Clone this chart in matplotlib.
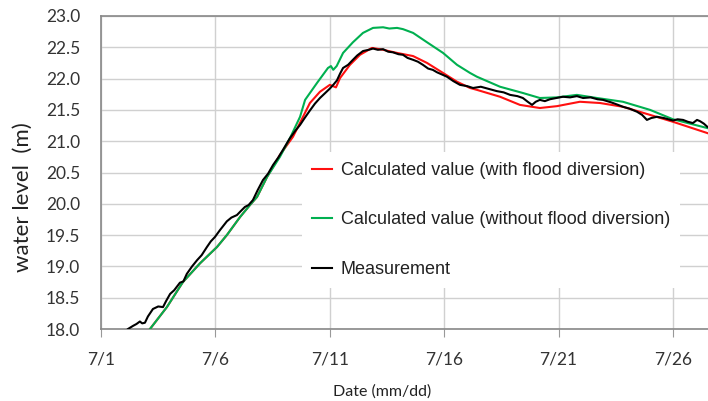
import matplotlib
matplotlib.use("Agg")
import matplotlib.pyplot as plt

# day of July (7/1 = 1)
meas_day = [2.18, 2.4, 2.55, 2.7, 2.8, 2.92, 3.05, 3.27, 3.5, 3.71, 3.85, 4.02, 4.2, 4.45,
            4.6, 4.75, 4.98, 5.2, 5.4, 5.63, 5.8, 5.98, 6.2, 6.5, 6.7, 6.94, 7.1, 7.29,
            7.45, 7.64, 7.85, 8.08, 8.3, 8.52, 8.75, 8.95, 9.26, 9.5, 9.7, 9.9, 10.13,
            10.35, 10.57, 10.8, 11.0, 11.15, 11.31, 11.45, 11.58, 11.8, 12.01, 12.2,
            12.45, 12.7, 12.89, 13.1, 13.33, 13.55, 13.76, 14.0, 14.2, 14.4, 14.64,
            14.85, 15.07, 15.3, 15.5, 15.69, 16.0, 16.12, 16.4, 16.69, 17.0, 17.26,
            17.6, 18.0, 18.3, 18.6, 18.88, 19.2, 19.44, 19.65, 19.84, 20.0, 20.18, 20.4,
            20.62, 20.9, 21.19, 21.5, 21.8, 22.07, 22.4, 22.7, 22.94, 23.3, 23.6, 23.81,
            24.1, 24.43, 24.65, 24.86, 25.05, 25.3, 25.6, 26.0, 26.2, 26.44, 26.65,
            26.87, 27.05, 27.18, 27.35, 27.5]
meas_level = [18.00, 18.05, 18.08, 18.12, 18.09, 18.10, 18.20, 18.32, 18.36, 18.35, 18.45,
              18.56, 18.62, 18.74, 18.76, 18.88, 19.00, 19.10, 19.18, 19.31, 19.40, 19.47,
              19.58, 19.72, 19.78, 19.82, 19.88, 19.95, 19.98, 20.06, 20.22, 20.38, 20.48,
              20.62, 20.74, 20.86, 21.05, 21.17, 21.26, 21.37, 21.49, 21.60, 21.69, 21.77,
              21.84, 21.90, 21.97, 22.08, 22.17, 22.22, 22.30, 22.37, 22.44, 22.46, 22.48,
              22.46, 22.47, 22.43, 22.42, 22.39, 22.38, 22.33, 22.30, 22.27, 22.22, 22.16,
              22.14, 22.10, 22.05, 22.03, 21.96, 21.90, 21.88, 21.85, 21.87, 21.83, 21.80,
              21.78, 21.74, 21.72, 21.69, 21.63, 21.58, 21.63, 21.66, 21.64, 21.67, 21.69,
              21.71, 21.70, 21.72, 21.69, 21.70, 21.67, 21.66, 21.62, 21.58, 21.55, 21.52,
              21.47, 21.42, 21.34, 21.37, 21.39, 21.37, 21.33, 21.35, 21.34, 21.31, 21.29,
              21.34, 21.32, 21.28, 21.23]

without_day = [3.14, 3.88, 4.58, 5.33, 6.07, 6.5, 7.08, 7.51, 7.82, 8.26, 8.82, 9.26, 9.7,
               9.92, 10.44, 10.92, 11.05, 11.15, 11.3, 11.58, 12.01, 12.45, 12.89, 13.33,
               13.6, 13.94, 14.2, 14.64, 15.25, 15.95, 16.56, 17.13, 17.43, 18.44, 19.44,
               20.18, 20.93, 21.8, 22.68, 23.81, 25.0, 26.0, 27.5]
without_level = [18.00, 18.35, 18.75, 19.05, 19.31, 19.50, 19.79, 19.98, 20.11, 20.43,
                 20.75, 21.05, 21.39, 21.66, 21.93, 22.17, 22.20, 22.14, 22.20, 22.41,
                 22.58, 22.73, 22.81, 22.82, 22.80, 22.81, 22.79, 22.73, 22.58, 22.41,
                 22.22, 22.09, 22.03, 21.87, 21.77, 21.69, 21.70, 21.74, 21.69, 21.63,
                 21.50, 21.35, 21.21]

with_day = [3.14, 3.88, 4.58, 5.33, 6.07, 6.5, 7.08, 7.51, 7.82, 8.26, 8.82, 9.39, 9.83,
            10.13, 10.57, 11.0, 11.27, 11.45, 11.88, 12.32, 12.84, 13.33, 13.94, 14.64,
            15.25, 15.95, 16.56, 17.13, 17.43, 18.44, 19.31, 20.18, 20.93, 21.93, 22.81,
            23.81, 25.0, 26.0, 27.5]
with_level = [18.00, 18.35, 18.75, 19.05, 19.31, 19.50, 19.79, 19.98, 20.11, 20.43, 20.78,
              21.07, 21.39, 21.61, 21.79, 21.90, 21.86, 22.01, 22.22, 22.38, 22.49, 22.46,
              22.41, 22.36, 22.25, 22.09, 21.95, 21.85, 21.82, 21.71, 21.58, 21.53, 21.56,
              21.63, 21.61, 21.55, 21.42, 21.31, 21.13]

tick_days = [1, 6, 11, 16, 21, 26]
tick_labels = ["7/1", "7/6", "7/11", "7/16", "7/21", "7/26"]
y_ticks = [18.0, 18.5, 19.0, 19.5, 20.0, 20.5, 21.0, 21.5, 22.0, 22.5, 23.0]

W, H = 708, 401
fig = plt.figure(figsize=(W / 100, H / 100), dpi=100)
ax = fig.add_axes([101 / W, (H - 329) / H, (W - 101) / W, (329 - 16) / H])

ax.plot(with_day, with_level, color="#FF1010", lw=1.5,
        label="Calculated value (with flood diversion)", zorder=3)
ax.plot(without_day, without_level, color="#00B050", lw=1.5,
        label="Calculated value (without flood diversion)", zorder=4)
ax.plot(meas_day, meas_level, color="black", lw=1.5, label="Measurement", zorder=5)

ax.set_xlim(1, 1 + (W - 101) / 22.88)
ax.set_ylim(18.0, 23.0)
ax.set_xticks(tick_days)
ax.set_xticklabels(tick_labels)
ax.set_yticks(y_ticks)
ax.set_yticklabels([f"{v:.1f}" for v in y_ticks])
ax.grid(True, color="#D0D0D0", lw=1.0)
ax.set_axisbelow(True)

for side in ["left", "bottom", "top"]:
    ax.spines[side].set_color("#888888")
    ax.spines[side].set_linewidth(1.2)
ax.spines["right"].set_visible(False)
ax.tick_params(axis="x", length=6, color="#999999", pad=10)
ax.tick_params(axis="y", length=0, pad=15)
for lbl in ax.get_xticklabels() + ax.get_yticklabels():
    lbl.set_fontfamily("Lato")
    lbl.set_fontsize(12.5)
    lbl.set_color("#333333")

fig.text(23 / W, 1 - 197 / H, "water level  (m)", rotation=90, ha="center", va="center",
         fontsize=16, family="Lato", color="#222222")
fig.text(382 / W, 1 - 392 / H, "Date (mm/dd)", ha="center", va="center",
         fontsize=11.5, family="Lato", color="#222222")

leg = ax.legend(loc="upper left", bbox_to_anchor=(302 / W, 1 - 152 / H),
                bbox_transform=fig.transFigure, frameon=True, fancybox=False,
                facecolor="white", edgecolor="none", framealpha=1.0,
                prop={"family": "Liberation Sans", "size": 13},
                handlelength=1.1, handletextpad=0.5, labelspacing=1.8,
                borderpad=0.55, borderaxespad=0)
leg.set_zorder(10)
for t in leg.get_texts():
    t.set_color("#222222")

fig.savefig("out.png", dpi=100)
